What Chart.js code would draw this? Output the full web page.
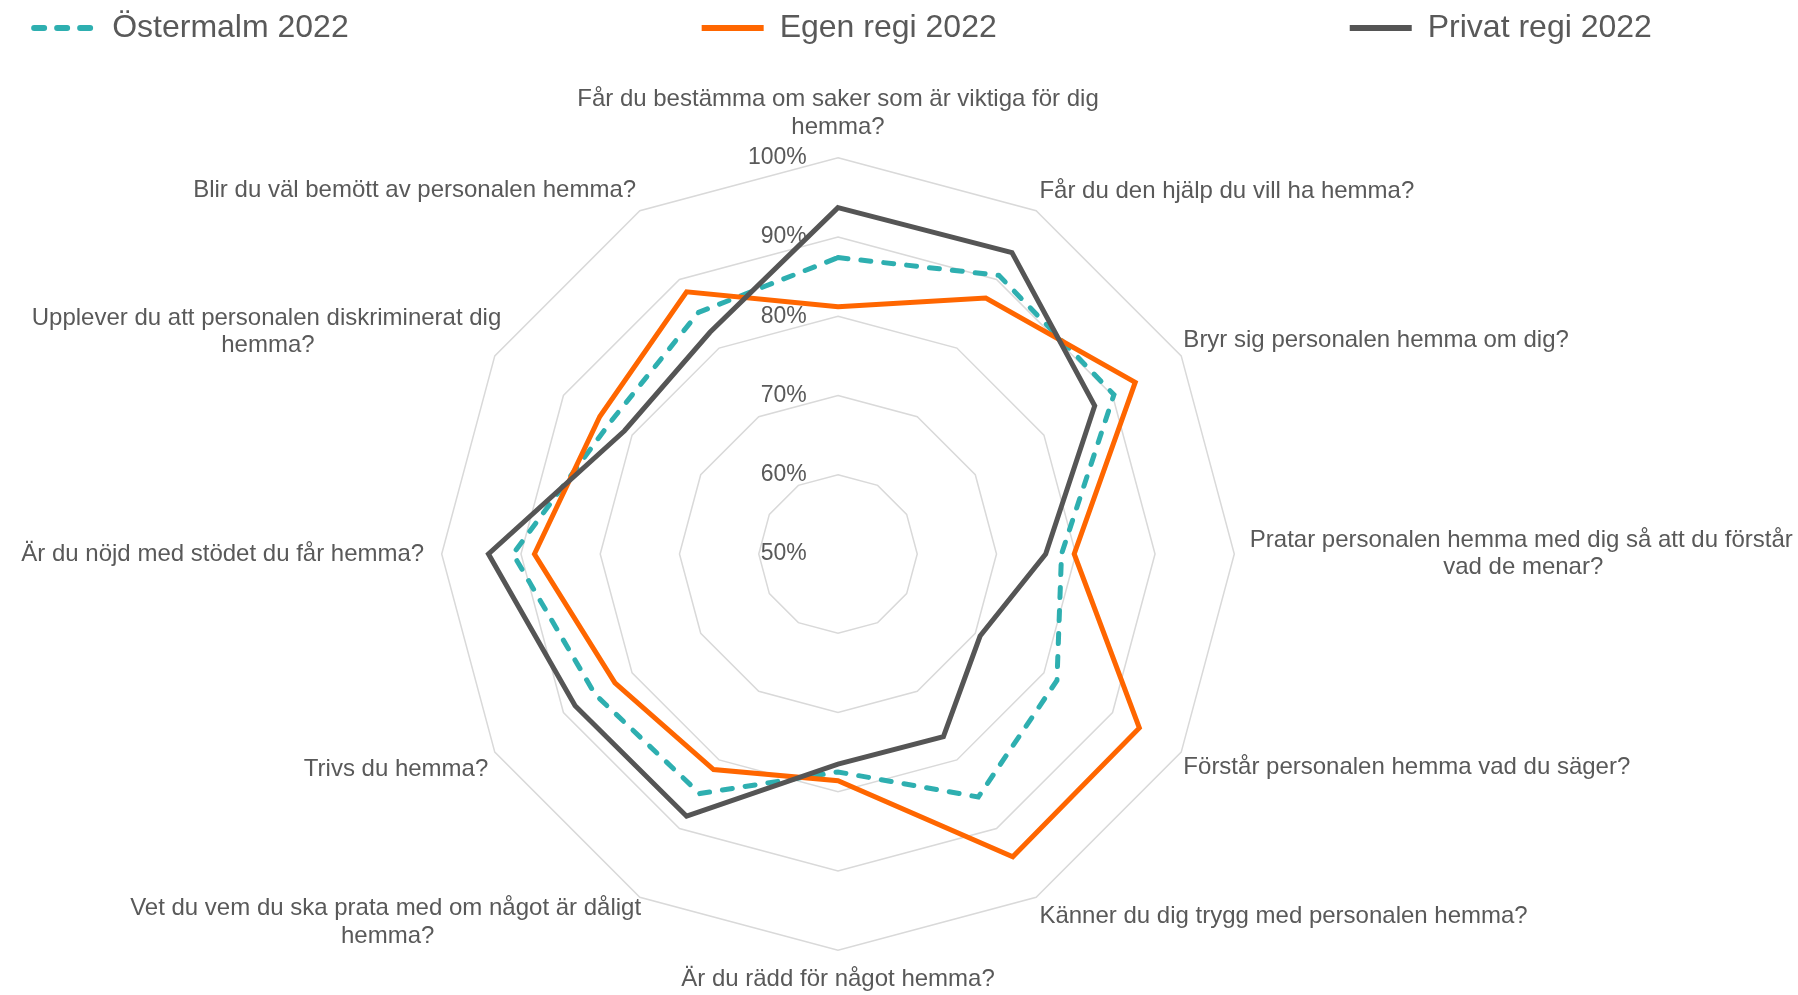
<!DOCTYPE html>
<html>
<head>
<meta charset="utf-8">
<script src="https://cdn.jsdelivr.net/npm/chart.js@4.4.1/dist/chart.umd.min.js"></script>
<style>
  html, body { margin: 0; padding: 0; background: #ffffff; overflow: hidden; width: 1798px; height: 995px; }
  #wrap { position: absolute; left: -357px; top: -341px; width: 2400px; height: 1350px; }
</style>
</head>
<body>
<div id="wrap"><canvas id="c"></canvas></div>
<script>
// ---- data ----
const categories = [
  ['Får du bestämma om saker som är viktiga för dig', 'hemma?'],
  'Får du den hjälp du vill ha hemma?',
  'Bryr sig personalen hemma om dig?',
  ['Pratar personalen hemma med dig så att du förstår', 'vad de menar?'],
  'Förstår personalen hemma vad du säger?',
  'Känner du dig trygg med personalen hemma?',
  'Är du rädd för något hemma?',
  ['Vet du vem du ska prata med om något är dåligt', 'hemma?'],
  'Trivs du hemma?',
  'Är du nöjd med stödet du får hemma?',
  ['Upplever du att personalen diskriminerat dig', 'hemma?'],
  'Blir du väl bemött av personalen hemma?'
];
const seriesNames = ['Östermalm 2022', 'Egen regi 2022', 'Privat regi 2022'];
const ostermalm  = [87.4, 90.6, 90.2, 78.2, 81.9, 85.4, 77.5, 84.9, 85.4, 91.0, 83.2, 85.2];
const egenRegi   = [81.2, 87.3, 93.3, 79.8, 93.9, 94.1, 78.6, 81.4, 82.5, 88.3, 84.7, 88.2];
const privatRegi = [93.7, 93.9, 87.4, 76.2, 70.7, 76.6, 76.5, 88.2, 88.3, 94.1, 81.1, 82.3];
const tickValues = [50, 60, 70, 80, 90, 100];

// ---- styling ----
const FONT = "'Liberation Sans', Arial, sans-serif";
const TEXT = '#595959';
const LABEL_PAD = [5, -5, -9, 4, -9, -5, 4, -14, -4, 6, -19, -4];

const mctx = document.createElement('canvas').getContext('2d');

// centre the second line of two-line labels under the first one
function centerLines(lines, index) {
  if (!Array.isArray(lines)) return lines;
  mctx.font = '24px ' + FONT;
  const w0 = mctx.measureText(lines[0]).width;
  const sp = mctx.measureText(' ').width;
  const half = categories.length / 2;
  return lines.map((ln, k) => {
    if (k === 0) return ln;
    const n = Math.max(0, Math.round((w0 - mctx.measureText(ln).width) / 2 / sp));
    const pad = ' '.repeat(n);
    if (index > 0 && index < half) return pad + ln;
    if (index > half) return ln + pad;
    return ln;
  });
}

// tick labels sit left of the vertical axis
function tickLabel(v) {
  const s = v + '%';
  mctx.font = '23px ' + FONT;
  const tw = mctx.measureText(s).width;
  const sp = mctx.measureText(' ').width;
  return s + ' '.repeat(Math.round((tw + 60) / sp));
}

function legendItems(chart) {
  const items = Chart.defaults.plugins.legend.labels.generateLabels(chart);
  items.forEach(it => {
    const ds = chart.data.datasets[it.datasetIndex];
    it.lineDash = ds.borderDash || [];
    it.lineCap = ds.borderCapStyle || 'butt';
    it.lineWidth = 6;
    it.strokeStyle = ds.borderColor;
    it.fillStyle = 'rgba(0,0,0,0)';
  });
  return items;
}

new Chart(document.getElementById('c'), {
  type: 'radar',
  data: {
    labels: categories,
    datasets: [
      { label: seriesNames[0], data: ostermalm, borderColor: '#2EAFB0', backgroundColor: 'rgba(0,0,0,0)',
        borderWidth: 5, borderDash: [10, 13], borderCapStyle: 'round', fill: false, order: 2, clip: false },
      { label: seriesNames[1], data: egenRegi, borderColor: '#FF6600', backgroundColor: 'rgba(0,0,0,0)',
        borderWidth: 5, fill: false, order: 1, clip: false },
      { label: seriesNames[2], data: privatRegi, borderColor: '#555555', backgroundColor: 'rgba(0,0,0,0)',
        borderWidth: 5, fill: false, order: 0, clip: false }
    ]
  },
  options: {
    responsive: true,
    maintainAspectRatio: false,
    animation: false,
    devicePixelRatio: 1,
    layout: { padding: 0 },
    elements: {
      line: { tension: 0, borderJoinStyle: 'miter' },
      point: { radius: 0, hoverRadius: 0 }
    },
    plugins: {
      legend: {
        position: 'top',
        labels: {
          usePointStyle: true,
          pointStyle: 'line',
          pointStyleWidth: 62,
          padding: 353,
          color: TEXT,
          font: { family: FONT, size: 32 },
          generateLabels: legendItems,
          sort: (a, b) => a.datasetIndex - b.datasetIndex
        }
      },
      title: { display: true, text: '', weight: 500, padding: 0, font: { size: 15, lineHeight: 1.2 } },
      subtitle: { display: true, text: '', position: 'right', fullSize: false, padding: 0, font: { size: 7.5, lineHeight: 1.2 } },
      tooltip: { enabled: false }
    },
    scales: {
      r: {
        min: 50,
        max: 100,
        startAngle: 0,
        angleLines: { display: false },
        grid: { color: '#D9D9D9', lineWidth: 1.5, circular: false },
        afterBuildTicks: (scale) => {
          scale.ticks = [{ value: tickValues[0] }].concat(tickValues.map(v => ({ value: v })));
        },
        ticks: {
          display: true,
          stepSize: 10,
          showLabelBackdrop: false,
          backdropPadding: 0,
          color: TEXT,
          font: { family: FONT, size: 23 },
          callback: tickLabel
        },
        pointLabels: {
          display: true,
          color: TEXT,
          font: { family: FONT, size: 24, lineHeight: 1.15 },
          padding: (ctx) => LABEL_PAD[ctx.index],
          callback: centerLines
        }
      }
    }
  }
});
</script>
</body>
</html>
